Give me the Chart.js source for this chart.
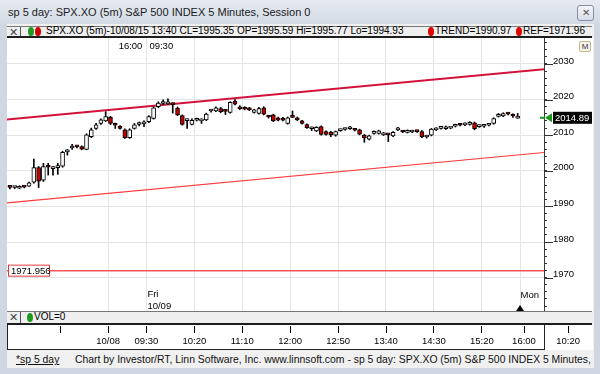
<!DOCTYPE html>
<html lang="en">
<head>
<meta charset="UTF-8">
<title>sp 5 day: SPX.XO (5m) S&amp;P 500 INDEX 5 Minutes, Session 0</title>
<script src="https://cdn.jsdelivr.net/npm/chart.js"></script>
<style>
    body {
        margin: 0;
        width: 600px;
        height: 374px;
        overflow: hidden;
        position: relative;
        font-family: "Liberation Sans", Arial, sans-serif;
        background: #cfd7e2;
    }
    .abs { position: absolute; white-space: nowrap; }
    #titleBar { left: 0; top: 0; width: 600px; height: 24px; background: linear-gradient(#e6ebf1, #d2dae4); }
    #titleText { left: 8px; top: 6px; font-size: 11px; color: #1b1b1b; }
    #closeBtn { left: 577px; top: 5px; width: 15px; height: 14px; border: 1px solid #8591a2; border-radius: 3px;
        background: linear-gradient(#f4f6f9, #d7dde6); font-size: 10px; line-height: 13px; text-align: center; color: #555; }
    #content { left: 7px; top: 24px; width: 587px; height: 344px; background: #f0f0f0; }
    .bar { background: #efefef; border-top: 1px solid #777; border-bottom: 2px solid #1e1e1e; font-size: 10px; color: #000; }
    .xbox { position: absolute; left: 0; top: 0; width: 13px; height: 100%; border-right: 1px solid #555;
        font-size: 11px; line-height: 10px; text-align: center; color: #444; }
    .dot { position: absolute; width: 6px; height: 9px; border-radius: 50%; }
    #mainHdr { left: 7px; top: 26px; width: 585px; height: 9px; }
    #volHdr { left: 7px; top: 311px; width: 585px; height: 11px; }
    #plotWrap { left: 7px; top: 38px; width: 586px; height: 273px; background: #fff; }
    #axisWrap { left: 7px; top: 325px; width: 586px; height: 25px; background: #fff; }
    #axisBox { left: 7px; top: 325px; width: 536px; height: 24px; border-left: 1px solid #222; border-right: 1px solid #222;
        border-bottom: 1px solid #222; pointer-events: none; }
    #mBtn { left: 579px; top: 41px; width: 10px; height: 9px; border: 1px solid #c9b48a; border-radius: 2px;
        background: #f6f3ec; font-size: 8px; line-height: 9px; text-align: center; color: #333; }
    #footer { left: 7px; top: 351px; width: 587px; height: 17px; background: #f0f0f0; font-size: 10.4px; color: #111; }
    #footer .link { position: absolute; left: 9px; top: 3px; text-decoration: underline; }
    #footer .credit { position: absolute; left: 68px; top: 3px; }
</style>
</head>
<body>
<div id="titleBar" class="abs"></div>
<div id="titleText" class="abs">sp 5 day: SPX.XO (5m) S&amp;P 500 INDEX 5 Minutes, Session 0</div>
<div id="closeBtn" class="abs">&#x2715;</div>
<div id="content" class="abs"></div>

<div id="mainHdr" class="abs bar">
    <div class="xbox">&#x2715;</div>
    <div class="dot" style="left:21px;top:0;background:#1f9a1f;"></div>
    <div class="dot" style="left:28px;top:0;background:#d10000;"></div>
    <span class="abs" style="left:39px;top:-2px;">SPX.XO (5m)-10/08/15 13:40 CL=1995.35 OP=1995.59 Hi=1995.77 Lo=1994.93</span>
    <div class="dot" style="left:421px;top:0;background:#e00000;"></div>
    <span class="abs" style="left:428px;top:-2px;">TREND=1990.97</span>
    <div class="dot" style="left:509px;top:0;background:#e00000;"></div>
    <span class="abs" style="left:516px;top:-2px;">REF=1971.96</span>
</div>

<div id="plotWrap" class="abs"><canvas id="priceChart" width="586" height="273"></canvas></div>
<div id="mBtn" class="abs">M</div>

<div id="volHdr" class="abs bar">
    <div class="xbox">&#x2715;</div>
    <div class="dot" style="left:20px;top:1px;background:#1f9a1f;"></div>
    <span class="abs" style="left:27px;top:-1px;">VOL=0</span>
</div>

<div id="axisWrap" class="abs"><canvas id="timeAxis" width="586" height="25"></canvas></div>
<div id="axisBox" class="abs"></div>

<div id="footer" class="abs">
    <span class="link">*sp 5 day</span>
    <span class="credit">Chart by Investor/RT, Linn Software, Inc. www.linnsoft.com - sp 5 day: SPX.XO (5m) S&amp;P 500 INDEX 5 Minutes,</span>
</div>

<script>
    // 5 minute bars, 10/08 13:40 .. 16:00 then 10/09 09:35 .. 16:00
    const barOpen = [
        1995.59, 1995.3, 1995.1, 1995.5, 1995.7, 1996.8, 2000.9, 1997.4, 2001.4, 2000.6,
        2000.9, 2001.3, 2005.3, 2006.4, 2006.8, 2006.8, 2006.0, 2009.6, 2011.9, 2013.3,
        2014.0, 2015.0, 2013.0, 2012.4, 2011.5, 2009.3, 2011.9, 2013.0, 2013.2,
        2013.8, 2014.7, 2018.0, 2018.9, 2018.8, 2018.8, 2017.6, 2015.5, 2014.1, 2013.0,
        2014.2, 2014.0, 2014.3, 2016.8, 2016.8, 2017.5, 2016.9, 2016.4, 2019.6, 2018.0,
        2017.4, 2017.2, 2016.4, 2016.1, 2017.7, 2015.3, 2015.7, 2014.9, 2014.7, 2013.3,
        2015.1, 2014.9, 2014.0, 2013.0, 2011.8, 2011.2, 2012.4, 2011.0, 2010.9, 2010.0,
        2011.3, 2011.6, 2011.8, 2011.6, 2011.5, 2010.0, 2008.9, 2010.5, 2010.5, 2010.1,
        2010.3, 2009.8, 2011.5, 2011.1, 2010.8, 2010.9, 2011.2, 2011.0, 2009.5, 2010.0,
        2011.5, 2011.9, 2011.8, 2012.0, 2012.5, 2012.9, 2012.9, 2013.0, 2013.5, 2012.4,
        2012.5, 2012.8, 2013.3, 2015.3, 2015.4, 2016.0, 2015.6, 2014.8
    ];
    const barHigh = [
        1995.77, 1995.6, 1995.8, 1995.7, 1996.8, 2003.3, 2001.2, 2002.1, 2002.1, 2001.2,
        2002.1, 2005.5, 2006.0, 2007.4, 2007.0, 2007.0, 2010.4, 2012.0, 2013.3, 2014.6,
        2016.6, 2015.3, 2013.4, 2012.7, 2011.8, 2011.8, 2013.3, 2013.7, 2014.0,
        2015.5, 2018.0, 2019.4, 2019.9, 2020.2, 2019.1, 2017.9, 2015.7, 2014.5, 2014.6,
        2014.8, 2014.6, 2016.2, 2017.3, 2018.0, 2017.8, 2017.0, 2019.4, 2020.0, 2018.3,
        2018.0, 2017.8, 2017.3, 2017.8, 2018.0, 2015.6, 2015.9, 2015.1, 2015.0, 2015.1,
        2016.8, 2015.1, 2014.2, 2013.2, 2012.3, 2012.4, 2012.6, 2011.2, 2011.1, 2011.2,
        2011.7, 2012.0, 2012.5, 2011.8, 2011.7, 2010.2, 2010.0, 2011.2, 2011.4, 2010.8,
        2010.4, 2011.0, 2012.2, 2011.3, 2011.5, 2011.4, 2011.4, 2011.3, 2010.0, 2011.9,
        2012.1, 2012.5, 2012.6, 2012.3, 2013.1, 2013.1, 2013.5, 2013.8, 2013.7, 2012.9,
        2013.0, 2013.2, 2014.9, 2016.1, 2016.3, 2016.3, 2016.0, 2016.1
    ];
    const barLow = [
        1994.93, 1995.0, 1995.0, 1995.2, 1995.6, 1996.5, 1995.3, 1997.0, 1998.8, 1998.8,
        1999.0, 2001.0, 2004.4, 2006.0, 2006.4, 2005.9, 2005.9, 2009.3, 2011.6, 2013.0,
        2013.8, 2013.0, 2011.9, 2011.7, 2009.1, 2009.1, 2011.7, 2012.6, 2012.4,
        2013.5, 2014.5, 2017.7, 2018.6, 2018.6, 2016.2, 2015.5, 2012.8, 2011.9, 2012.9,
        2014.0, 2013.3, 2014.1, 2016.5, 2016.6, 2016.3, 2015.8, 2016.2, 2018.5, 2017.2,
        2017.1, 2016.9, 2016.2, 2015.9, 2015.7, 2014.8, 2013.8, 2014.0, 2014.0, 2013.1,
        2014.9, 2014.1, 2013.1, 2011.9, 2011.3, 2011.0, 2010.0, 2010.0, 2009.6, 2009.7,
        2011.1, 2011.4, 2011.6, 2011.2, 2010.1, 2008.0, 2008.7, 2010.3, 2010.3, 2009.9,
        2008.2, 2009.6, 2011.3, 2010.7, 2010.6, 2010.7, 2010.8, 2009.3, 2009.2, 2009.8,
        2011.3, 2011.7, 2011.6, 2011.8, 2012.3, 2012.6, 2012.7, 2012.8, 2011.5, 2012.2,
        2012.2, 2012.6, 2013.1, 2015.1, 2015.2, 2015.7, 2015.0, 2014.7
    ];
    const barClose = [
        1995.35, 1995.4, 1995.6, 1995.4, 1996.6, 2000.9, 1997.1, 2001.2, 2001.0, 2000.8,
        2001.2, 2005.2, 2005.5, 2006.7, 2006.7, 2006.1, 2010.1, 2011.5, 2012.9, 2014.3,
        2015.2, 2013.3, 2012.8, 2011.9, 2009.3, 2011.5, 2012.9, 2013.2, 2013.4,
        2015.2, 2017.7, 2019.0, 2019.1, 2019.1, 2018.6, 2015.7, 2013.0, 2014.3, 2014.2,
        2014.3, 2014.1, 2015.9, 2017.0, 2017.7, 2016.6, 2016.7, 2019.2, 2018.7, 2017.4,
        2017.3, 2017.1, 2017.1, 2017.5, 2015.9, 2015.1, 2014.0, 2014.2, 2014.2, 2014.9,
        2015.0, 2014.3, 2013.3, 2012.1, 2012.0, 2012.2, 2010.2, 2010.2, 2010.1, 2011.0,
        2011.5, 2011.7, 2011.9, 2011.4, 2010.3, 2009.2, 2009.8, 2011.0, 2011.2, 2010.6,
        2010.1, 2010.8, 2011.6, 2010.9, 2010.9, 2011.0, 2011.0, 2009.5, 2009.7, 2011.7,
        2011.9, 2012.0, 2011.9, 2012.1, 2012.9, 2012.8, 2013.3, 2013.6, 2011.8, 2012.7,
        2012.6, 2013.0, 2014.7, 2015.4, 2016.1, 2015.9, 2015.4, 2014.89
    ];

    // study lines (value at left edge, value at right edge)
    const channelLine = [2014.4, 2028.5];
    const trendLine = [1990.97, 2005.14];
    const refLevel = 1971.956;
    const lastPrice = 2014.89;

    // axes
    const xMin = -0.1, xMax = 112.0, xAxisEnd = 122.2;
    const yMin = 1960.62, yMax = 2037.3;
    const yTickLabels = [1970, 1980, 1990, 2000, 2010, 2020, 2030];
    const gridPositions = [21, 29, 39, 49, 59, 69, 79, 89, 99, 107];
    const timeTickPositions = [11, 21, 29, 39, 49, 59, 69, 79, 89, 99, 107.8, 117];
    const timeTickLabels = ['', '10/08', '09:30', '10:20', '11:10', '12:00', '12:50', '13:40', '14:30', '15:20', '16:00', '10:20'];
    const sessionBreak = 29, mondayBreak = 107;

    const smallFont = {family: '"Liberation Sans", Arial, sans-serif', size: 9.5};

    const bodyData = barOpen.map((o, i) => ({x: i + 0.5, y: [o, barClose[i]]}));
    const wickData = barOpen.map((o, i) => ({x: i + 0.5, y: [barLow[i], barHigh[i]]}));

    // text and markers drawn over the plot
    const overlay = {
        id: 'overlay',
        afterDraw(chart) {
            const {ctx, chartArea, scales: {x, y}} = chart;
            ctx.save();
            ctx.font = '9.5px "Liberation Sans", Arial, sans-serif';
            ctx.fillStyle = '#000';
            ctx.textBaseline = 'middle';

            // longer marks for the labelled ticks
            ctx.strokeStyle = '#333';
            ctx.lineWidth = 1;
            yTickLabels.forEach(v => {
                const py = Math.round(y.getPixelForValue(v)) + 0.5;
                ctx.beginPath();
                ctx.moveTo(chartArea.right, py);
                ctx.lineTo(chartArea.right + 9, py);
                ctx.stroke();
            });

            // session labels
            const xs = x.getPixelForValue(sessionBreak);
            ctx.textAlign = 'right';
            ctx.fillText('16:00', xs - 4, 8);
            ctx.textAlign = 'left';
            ctx.fillText('09:30', xs + 3, 8);
            ctx.fillText('Fri', xs + 1, 256);
            ctx.fillText('10/09', xs + 1, 268);
            ctx.textAlign = 'right';
            ctx.fillText('Mon', chartArea.right - 5, 257);

            const xm = x.getPixelForValue(mondayBreak);
            ctx.beginPath();
            ctx.moveTo(xm, chartArea.bottom - 6);
            ctx.lineTo(xm - 4, chartArea.bottom);
            ctx.lineTo(xm + 4, chartArea.bottom);
            ctx.closePath();
            ctx.fill();

            // reference level label
            const ry = y.getPixelForValue(refLevel);
            ctx.fillStyle = '#fff';
            ctx.fillRect(1.5, ry - 5.5, 41, 11);
            ctx.strokeStyle = '#e23b3b';
            ctx.strokeRect(1.5, ry - 5.5, 41, 11);
            ctx.fillStyle = '#000';
            ctx.textAlign = 'left';
            ctx.fillText(refLevel.toFixed(3), 4, ry + 0.5);

            // last price marker
            const py = y.getPixelForValue(lastPrice);
            ctx.fillStyle = '#1c9a1c';
            ctx.fillRect(chartArea.right - 4, py - 1, 5, 2);
            ctx.beginPath();
            ctx.moveTo(chartArea.right + 1, py);
            ctx.lineTo(chartArea.right + 8, py - 4.5);
            ctx.lineTo(chartArea.right + 8, py + 4.5);
            ctx.closePath();
            ctx.fill();
            ctx.fillStyle = '#000';
            ctx.fillRect(chartArea.right + 9, py - 6, 39, 12);
            ctx.fillStyle = '#fff';
            ctx.fillText(lastPrice.toFixed(2), chartArea.right + 11, py + 0.5);
            ctx.restore();
        }
    };

    new Chart(document.getElementById('priceChart'), {
        type: 'bar',
        data: {
            datasets: [
                {
                    type: 'line', data: [{x: xMin, y: channelLine[0]}, {x: xMax, y: channelLine[1]}],
                    borderColor: '#d3123c', borderWidth: 2, pointRadius: 0, order: 5
                },
                {
                    type: 'line', data: [{x: xMin, y: trendLine[0]}, {x: xMax, y: trendLine[1]}],
                    borderColor: '#ff3b3b', borderWidth: 1.2, pointRadius: 0, order: 5
                },
                {
                    type: 'line', data: [{x: xMin, y: refLevel}, {x: xMax, y: refLevel}],
                    borderColor: '#ff5252', borderWidth: 1.5, pointRadius: 0, order: 5
                },
                {
                    data: wickData, backgroundColor: '#000', borderWidth: 0,
                    barThickness: 1, grouped: false, order: 2
                },
                {
                    data: bodyData,
                    backgroundColor: ctx => barClose[ctx.dataIndex] < barOpen[ctx.dataIndex] ? '#c40000' : '#ffffff',
                    borderColor: '#000', borderWidth: 1, borderSkipped: false,
                    barThickness: 4, minBarLength: 2, grouped: false, order: 1
                }
            ]
        },
        options: {
            responsive: false,
            animation: false,
            layout: {padding: 0},
            plugins: {legend: {display: false}, tooltip: {enabled: false}},
            scales: {
                x: {
                    type: 'linear', min: xMin, max: xMax, offset: false,
                    afterBuildTicks: s => { s.ticks = gridPositions.map(v => ({value: v})); },
                    ticks: {display: false},
                    grid: {color: '#e4e4e4', drawTicks: false, offset: false},
                    border: {display: false},
                    afterFit: s => { s.height = 0; s.paddingLeft = 0; s.paddingRight = 0; }
                },
                y: {
                    position: 'right', min: yMin, max: yMax,
                    ticks: {
                        stepSize: 2, includeBounds: false, autoSkip: false, padding: 6, labelOffset: -3,
                        color: '#000', font: smallFont,
                        callback: v => yTickLabels.includes(v) ? String(v) : ''
                    },
                    grid: {
                        color: c => yTickLabels.includes(c.tick.value) ? '#e4e4e4' : 'rgba(0,0,0,0)',
                        tickColor: '#333', tickLength: 3
                    },
                    border: {color: '#3a3a3a', width: 1},
                    afterFit: s => { s.width = 49; s.paddingTop = 0; s.paddingBottom = 0; }
                }
            }
        },
        plugins: [overlay]
    });

    // time axis under the volume pane
    new Chart(document.getElementById('timeAxis'), {
        type: 'line',
        data: {datasets: []},
        options: {
            responsive: false,
            animation: false,
            layout: {padding: 0},
            plugins: {legend: {display: false}, tooltip: {enabled: false}},
            scales: {
                x: {
                    type: 'linear', min: xMin, max: xAxisEnd,
                    afterBuildTicks: s => { s.ticks = timeTickPositions.map(v => ({value: v})); },
                    ticks: {
                        autoSkip: false, maxRotation: 0, minRotation: 0, padding: 3,
                        color: '#000', font: smallFont,
                        callback: (v, i) => timeTickLabels[i]
                    },
                    grid: {drawOnChartArea: false, tickLength: 7, tickColor: '#000'},
                    border: {display: false},
                    afterFit: s => { s.height = 24; s.paddingLeft = 0; s.paddingRight = 0; }
                },
                y: {display: false, min: 0, max: 1}
            }
        }
    });
</script>
</body>
</html>
